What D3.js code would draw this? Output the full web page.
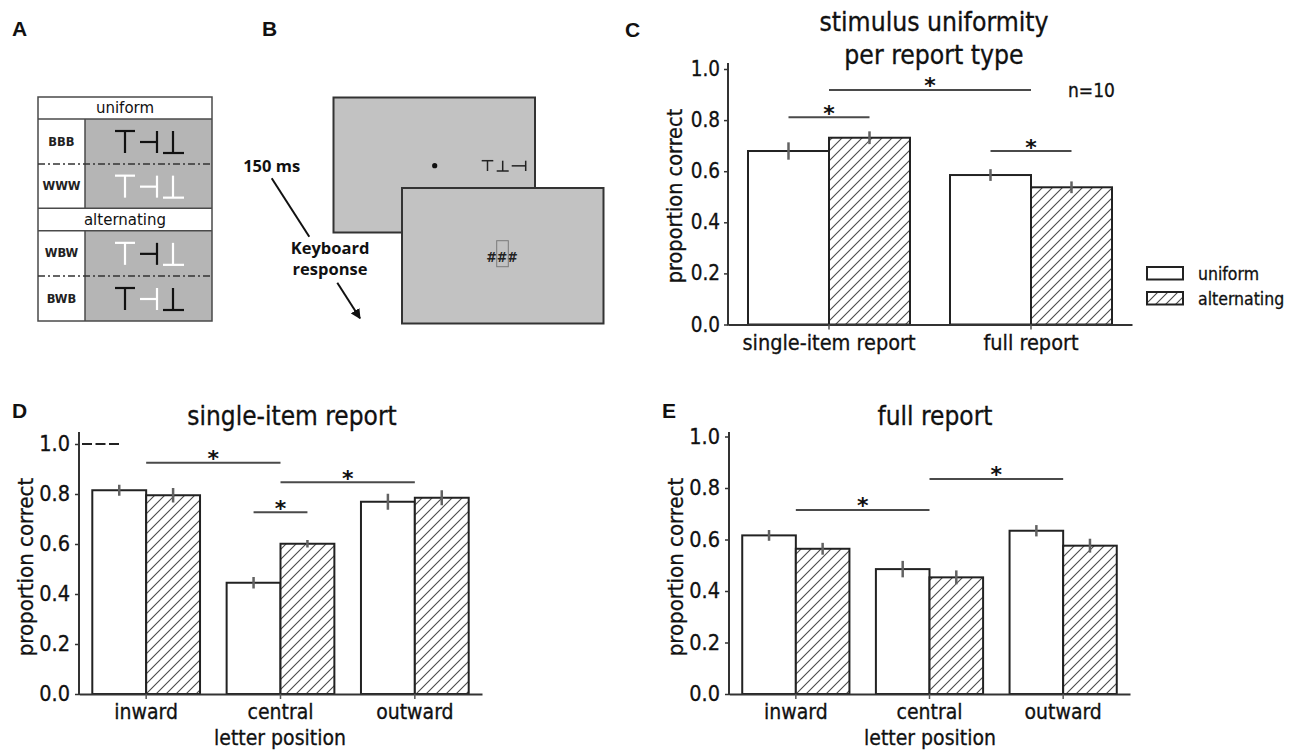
<!DOCTYPE html>
<html><head><meta charset="utf-8">
<script src="https://cdn.jsdelivr.net/npm/d3@7"></script>
<style>
html,body{margin:0;padding:0;background:#fff;}
svg{display:block;}
</style></head><body>
<svg id="fig" width="1301" height="752"></svg>
<script>
// ---------------- data ----------------
const conditions = ["uniform", "alternating"];

const panelCCategories = ["single-item report", "full report"];
const panelCUniform = [0.679, 0.585];
const panelCAlternating = [0.731, 0.537];
const panelCUniformErr = [0.034, 0.023];
const panelCAlternatingErr = [0.025, 0.023];

const positions = ["inward", "central", "outward"];
const panelDUniform = [0.815, 0.445, 0.769];
const panelDAlternating = [0.795, 0.601, 0.785];
const panelDUniformErr = [0.022, 0.023, 0.032];
const panelDAlternatingErr = [0.029, 0.015, 0.030];

const panelEUniform = [0.616, 0.485, 0.634];
const panelEAlternating = [0.564, 0.453, 0.576];
const panelEUniformErr = [0.021, 0.032, 0.022];
const panelEAlternatingErr = [0.023, 0.027, 0.027];

const yTicks = [0, 0.2, 0.4, 0.6, 0.8, 1.0];

// significance bars: [fromCategory, fromCondition (null = group centre), toCategory, toCondition, y value]
const panelCSig = [
  ["single-item report", "uniform", "single-item report", "alternating", 0.811],
  ["single-item report", null, "full report", null, 0.918],
  ["full report", "uniform", "full report", "alternating", 0.679]
];
const panelDSig = [
  ["inward", null, "central", null, 0.925],
  ["central", null, "outward", null, 0.847],
  ["central", "uniform", "central", "alternating", 0.727]
];
const panelESig = [
  ["inward", null, "central", null, 0.715],
  ["central", null, "outward", null, 0.835]
];
const panelDReference = [1.0];

// panel A stimulus table
const stimHeaders = ["uniform", "alternating"];
const stimRowLabels = ["BBB", "WWW", "WBW", "BWB"];
const stimRowColours = [["#111", "#111", "#111"], ["#fff", "#fff", "#fff"], ["#fff", "#111", "#fff"], ["#111", "#fff", "#111"]];

// panel B texts
const trialTexts = ["150 ms", "Keyboard", "response"];
const maskText = "###";

// ---------------- drawing ----------------
const svg = d3.select("#fig");
const CF = "'DejaVu Sans Condensed','DejaVu Sans',sans-serif";
const TXT = "#111";

function styleText(sel, size) {
  return sel.attr("font-family", CF).attr("font-stretch", "condensed").attr("font-size", size)
    .attr("fill", TXT).attr("stroke", TXT).attr("stroke-width", 0.3);
}

const defs = svg.append("defs");
const hatch = defs.append("pattern").attr("id", "hatch").attr("patternUnits", "userSpaceOnUse")
  .attr("width", 10).attr("height", 10);
hatch.append("rect").attr("width", 10).attr("height", 10).attr("fill", "#fff");
hatch.append("path").attr("d", "M-1,1 l2,-2 M0,10 l10,-10 M9,11 l2,-2")
  .attr("stroke", "#4a4a4a").attr("stroke-width", 1.1);
defs.append("marker").attr("id", "arrow").attr("viewBox", "0 0 10 10").attr("refX", 9).attr("refY", 5)
  .attr("markerWidth", 5).attr("markerHeight", 5).attr("orient", "auto-start-reverse").attr("markerUnits", "strokeWidth")
  .append("path").attr("d", "M0,0 L10,5 L0,10 z").attr("fill", "#111");

// panel letters
[["A", 12, 36], ["B", 262, 36], ["C", 625, 37], ["D", 12, 418], ["E", 662, 418]].forEach(([t, x, y]) => {
  svg.append("text").attr("x", x).attr("y", y).text(t)
    .attr("font-family", "'Liberation Sans',Arial,sans-serif").attr("font-weight", "bold")
    .attr("font-size", 21).attr("fill", "#111");
});

// ---- Panel A ----
(function () {
  const g = svg.append("g");
  const L = 38, M = 85, R = 212;
  const rowsY = [[97, 119], [119, 164], [164, 208.3], [208.3, 230.7], [230.7, 276], [276, 321]];
  [[1, 2], [4, 5]].forEach(([a, b]) => {
    g.append("rect").attr("x", M).attr("y", rowsY[a][0]).attr("width", R - M).attr("height", rowsY[b][1] - rowsY[a][0])
      .attr("fill", "#b5b5b5");
  });
  g.append("rect").attr("x", L).attr("y", 97).attr("width", R - L).attr("height", 321 - 97)
    .attr("fill", "none").attr("stroke", "#4a4a4a").attr("stroke-width", 1.5);
  [119, 208.3, 230.7].forEach(yy => g.append("line").attr("x1", L).attr("x2", R).attr("y1", yy).attr("y2", yy)
    .attr("stroke", "#4a4a4a").attr("stroke-width", 1.5));
  [[119, 208.3], [230.7, 321]].forEach(([a, b]) => g.append("line").attr("x1", M).attr("x2", M).attr("y1", a).attr("y2", b)
    .attr("stroke", "#4a4a4a").attr("stroke-width", 1.5));
  [164, 276].forEach(yy => g.append("line").attr("x1", L).attr("x2", R).attr("y1", yy).attr("y2", yy)
    .attr("stroke", "#333").attr("stroke-width", 1.4).attr("stroke-dasharray", "7,3,2,3"));
  stimHeaders.forEach((h, i) => {
    const r = rowsY[i === 0 ? 0 : 3];
    g.append("text").attr("x", (L + R) / 2).attr("y", (r[0] + r[1]) / 2).attr("dy", "0.36em")
      .attr("text-anchor", "middle").attr("font-family", "'DejaVu Sans',sans-serif").attr("font-size", 15)
      .attr("fill", TXT).text(h);
  });
  const stimRows = [rowsY[1], rowsY[2], rowsY[4], rowsY[5]];
  stimRowLabels.forEach((lab, i) => {
    const r = stimRows[i];
    const cy = (r[0] + r[1]) / 2;
    g.append("text").attr("x", (L + M) / 2).attr("y", cy).attr("dy", "0.36em")
      .attr("text-anchor", "middle").attr("font-family", "'DejaVu Sans',sans-serif").attr("font-weight", "bold")
      .attr("font-size", 11.5).attr("fill", "#222").text(lab);
    const top = cy - 10.5, bot = cy + 11.5, mid = (top + bot) / 2;
    const cols = stimRowColours[i];
    const sw = 2.2;
    const ln = (x1, y1, x2, y2, c) => g.append("line").attr("x1", x1).attr("y1", y1).attr("x2", x2).attr("y2", y2)
      .attr("stroke", c).attr("stroke-width", sw);
    ln(115, top, 135, top, cols[0]); ln(125, top, 125, bot, cols[0]);      // T
    ln(140, mid, 157, mid, cols[1]); ln(157, top, 157, bot, cols[1]);      // ⊣
    ln(173, top, 173, bot, cols[2]); ln(163, bot, 184, bot, cols[2]);      // ⊥
  });
})();

// ---- Panel B ----
(function () {
  const g = svg.append("g");
  g.append("rect").attr("x", 333.5).attr("y", 97.5).attr("width", 201.5).attr("height", 135)
    .attr("fill", "#c2c2c2").attr("stroke", "#333").attr("stroke-width", 2);
  g.append("rect").attr("x", 402).attr("y", 188).attr("width", 201.5).attr("height", 135.5)
    .attr("fill", "#c2c2c2").attr("stroke", "#333").attr("stroke-width", 2);
  g.append("circle").attr("cx", 434.7).attr("cy", 165.7).attr("r", 2.6).attr("fill", "#111");
  const top = 160.7, bot = 171, mid = (top + bot) / 2;
  const ln = (x1, y1, x2, y2) => g.append("line").attr("x1", x1).attr("y1", y1).attr("x2", x2).attr("y2", y2)
    .attr("stroke", "#222").attr("stroke-width", 1.5);
  ln(481.7, top, 493.3, top); ln(487.5, top, 487.5, bot);      // T
  ln(502.7, top, 502.7, bot); ln(496.7, bot, 508.7, bot);      // ⊥
  ln(511.7, mid, 525.7, mid); ln(525.7, top, 525.7, bot);      // ⊣
  g.append("text").attr("x", 502).attr("y", 262).attr("text-anchor", "middle")
    .attr("font-family", CF).attr("font-stretch", "condensed").attr("font-weight", "bold").attr("font-size", 14)
    .attr("fill", "#222").text(maskText);
  g.append("rect").attr("x", 496.7).attr("y", 240.7).attr("width", 11.6).attr("height", 26)
    .attr("fill", "none").attr("stroke", "#7a7a7a").attr("stroke-width", 1);
  const ft = (t, x, y) => g.append("text").attr("x", x).attr("y", y).attr("text-anchor", "middle")
    .attr("font-family", "'Open Sans',sans-serif").attr("font-weight", "bold").attr("font-size", 16.5)
    .attr("fill", "#111").text(t);
  ft(trialTexts[0], 271.7, 172);
  ft(trialTexts[1], 330, 254);
  ft(trialTexts[2], 330, 275);
  g.append("line").attr("x1", 271.7).attr("y1", 178.3).attr("x2", 309.3).attr("y2", 236.7)
    .attr("stroke", "#111").attr("stroke-width", 2);
  g.append("line").attr("x1", 337.3).attr("y1", 282.7).attr("x2", 360).attr("y2", 318.3)
    .attr("stroke", "#111").attr("stroke-width", 2).attr("marker-end", "url(#arrow)");
})();

// ---- bar panels ----
function barPanel(cfg) {
  const g = svg.append("g");
  const x = d3.scaleBand().domain(cfg.cats).range([cfg.left, cfg.right]).paddingInner(0.198).paddingOuter(0.099);
  const xs = d3.scaleBand().domain(conditions).range([0, x.bandwidth()]);
  const y = d3.scaleLinear().domain([0, 1]).range([cfg.y0, cfg.y1]);
  const xPos = (cat, cond) => cond ? x(cat) + xs(cond) + xs.bandwidth() / 2 : x(cat) + x.bandwidth() / 2;

  const data = [];
  cfg.cats.forEach((c, i) => {
    data.push({ cat: c, cond: "uniform", v: cfg.uni[i], e: cfg.uniErr[i] });
    data.push({ cat: c, cond: "alternating", v: cfg.alt[i], e: cfg.altErr[i] });
  });

  g.selectAll("rect.bar").data(data).join("rect").attr("class", "bar")
    .attr("x", d => x(d.cat) + xs(d.cond)).attr("width", xs.bandwidth())
    .attr("y", d => y(d.v)).attr("height", d => y(0) - y(d.v))
    .attr("fill", d => d.cond === "uniform" ? "#fff" : "url(#hatch)")
    .attr("stroke", "#222").attr("stroke-width", 2);

  g.selectAll("line.err").data(data).join("line").attr("class", "err")
    .attr("x1", d => xPos(d.cat, d.cond)).attr("x2", d => xPos(d.cat, d.cond))
    .attr("y1", d => y(d.v - d.e)).attr("y2", d => y(d.v + d.e))
    .attr("stroke", "#626262").attr("stroke-width", 2.5);

  // y axis
  const ya = g.append("g").attr("transform", `translate(${cfg.left},0)`)
    .call(d3.axisLeft(y).tickValues(yTicks).tickFormat(d3.format(".1f")).tickSize(4).tickSizeOuter(0).tickPadding(cfg.tickPad));
  ya.select(".domain").remove();
  ya.selectAll(".tick line").attr("stroke", "#333").attr("stroke-width", 1.5);
  styleText(ya.selectAll(".tick text"), cfg.tickFont);
  g.append("line").attr("x1", cfg.left).attr("x2", cfg.left).attr("y1", y(0) + 1).attr("y2", cfg.axisTop)
    .attr("stroke", "#333").attr("stroke-width", 2);

  // x axis
  const xa = g.append("g").attr("transform", `translate(0,${cfg.y0})`)
    .call(d3.axisBottom(x).tickSize(5).tickSizeOuter(0).tickPadding(cfg.xPad));
  xa.select(".domain").attr("stroke", "#333").attr("stroke-width", 2);
  xa.selectAll(".tick line").attr("stroke", "#555").attr("stroke-width", 1.5);
  styleText(xa.selectAll(".tick text"), cfg.labelFont);

  // y label
  styleText(g.append("text").attr("transform", `translate(${cfg.yLabelX},${cfg.yLabelY}) rotate(-90)`)
    .attr("text-anchor", "middle").attr("dy", "0.35em"), cfg.yLabelFont)
    .text("proportion correct");

  // titles
  cfg.titles.forEach(([t, tx, ty]) => styleText(g.append("text").attr("x", tx).attr("y", ty).attr("text-anchor", "middle"), cfg.titleFont).text(t));
  if (cfg.xTitle) {
    styleText(g.append("text").attr("x", cfg.xTitle[1]).attr("y", cfg.xTitle[2]).attr("text-anchor", "middle"), cfg.labelFont)
      .text(cfg.xTitle[0]);
  }

  // significance
  cfg.sig.forEach(([c1, k1, c2, k2, v]) => {
    const x1 = xPos(c1, k1), x2 = xPos(c2, k2);
    g.append("line").attr("x1", x1).attr("x2", x2).attr("y1", y(v)).attr("y2", y(v))
      .attr("stroke", "#4a4a4a").attr("stroke-width", 2);
    g.append("text").attr("x", (x1 + x2) / 2).attr("y", y(v) + 3.5).attr("text-anchor", "middle")
      .attr("font-family", "'DejaVu Sans',sans-serif").attr("font-weight", "bold").attr("font-size", 22).attr("fill", TXT).text("*");
  });

  // reference line
  (cfg.ref || []).forEach(v => g.append("line").attr("x1", cfg.left + 3).attr("x2", cfg.left + 41)
    .attr("y1", y(v)).attr("y2", y(v)).attr("stroke", "#222").attr("stroke-width", 2).attr("stroke-dasharray", "10,3.5"));

  return { g, x, y };
}

const C = barPanel({
  cats: panelCCategories, uni: panelCUniform, alt: panelCAlternating, uniErr: panelCUniformErr, altErr: panelCAlternatingErr,
  left: 728, right: 1132, y0: 324.5, y1: 69, axisTop: 63, tickFont: 20.5, tickPad: 4, labelFont: 21.5, yLabelFont: 21.5, xPad: 5,
  yLabelX: 674, yLabelY: 196, titleFont: 26.3,
  titles: [["stimulus uniformity", 934, 31], ["per report type", 934, 64]],
  sig: panelCSig
});
styleText(C.g.append("text").attr("x", 1068).attr("y", 97), 19).text("n=10");
// legend
conditions.forEach((c, i) => {
  const ly = [267, 292][i];
  C.g.append("rect").attr("x", 1147).attr("y", ly).attr("width", 36).attr("height", 12.5)
    .attr("fill", c === "uniform" ? "#fff" : "url(#hatch)").attr("stroke", "#222").attr("stroke-width", 2);
  styleText(C.g.append("text").attr("x", 1198).attr("y", ly + 6.5).attr("dy", "0.35em"), 17.5).text(c);
});

barPanel({
  cats: positions, uni: panelDUniform, alt: panelDAlternating, uniErr: panelDUniformErr, altErr: panelDAlternatingErr,
  left: 79, right: 482, y0: 694, y1: 444, axisTop: 432, tickFont: 21.5, tickPad: 5, labelFont: 21, yLabelFont: 22, xPad: 5,
  yLabelX: 25, yLabelY: 567, titleFont: 26,
  titles: [["single-item report", 292, 425]],
  xTitle: ["letter position", 280, 745],
  sig: panelDSig, ref: panelDReference
});

barPanel({
  cats: positions, uni: panelEUniform, alt: panelEAlternating, uniErr: panelEUniformErr, altErr: panelEAlternatingErr,
  left: 729, right: 1130, y0: 694, y1: 436.5, axisTop: 432, tickFont: 21.5, tickPad: 5, labelFont: 21, yLabelFont: 22, xPad: 5,
  yLabelX: 675, yLabelY: 567, titleFont: 26,
  titles: [["full report", 935, 425]],
  xTitle: ["letter position", 930, 745],
  sig: panelESig
});
</script>
</body></html>
